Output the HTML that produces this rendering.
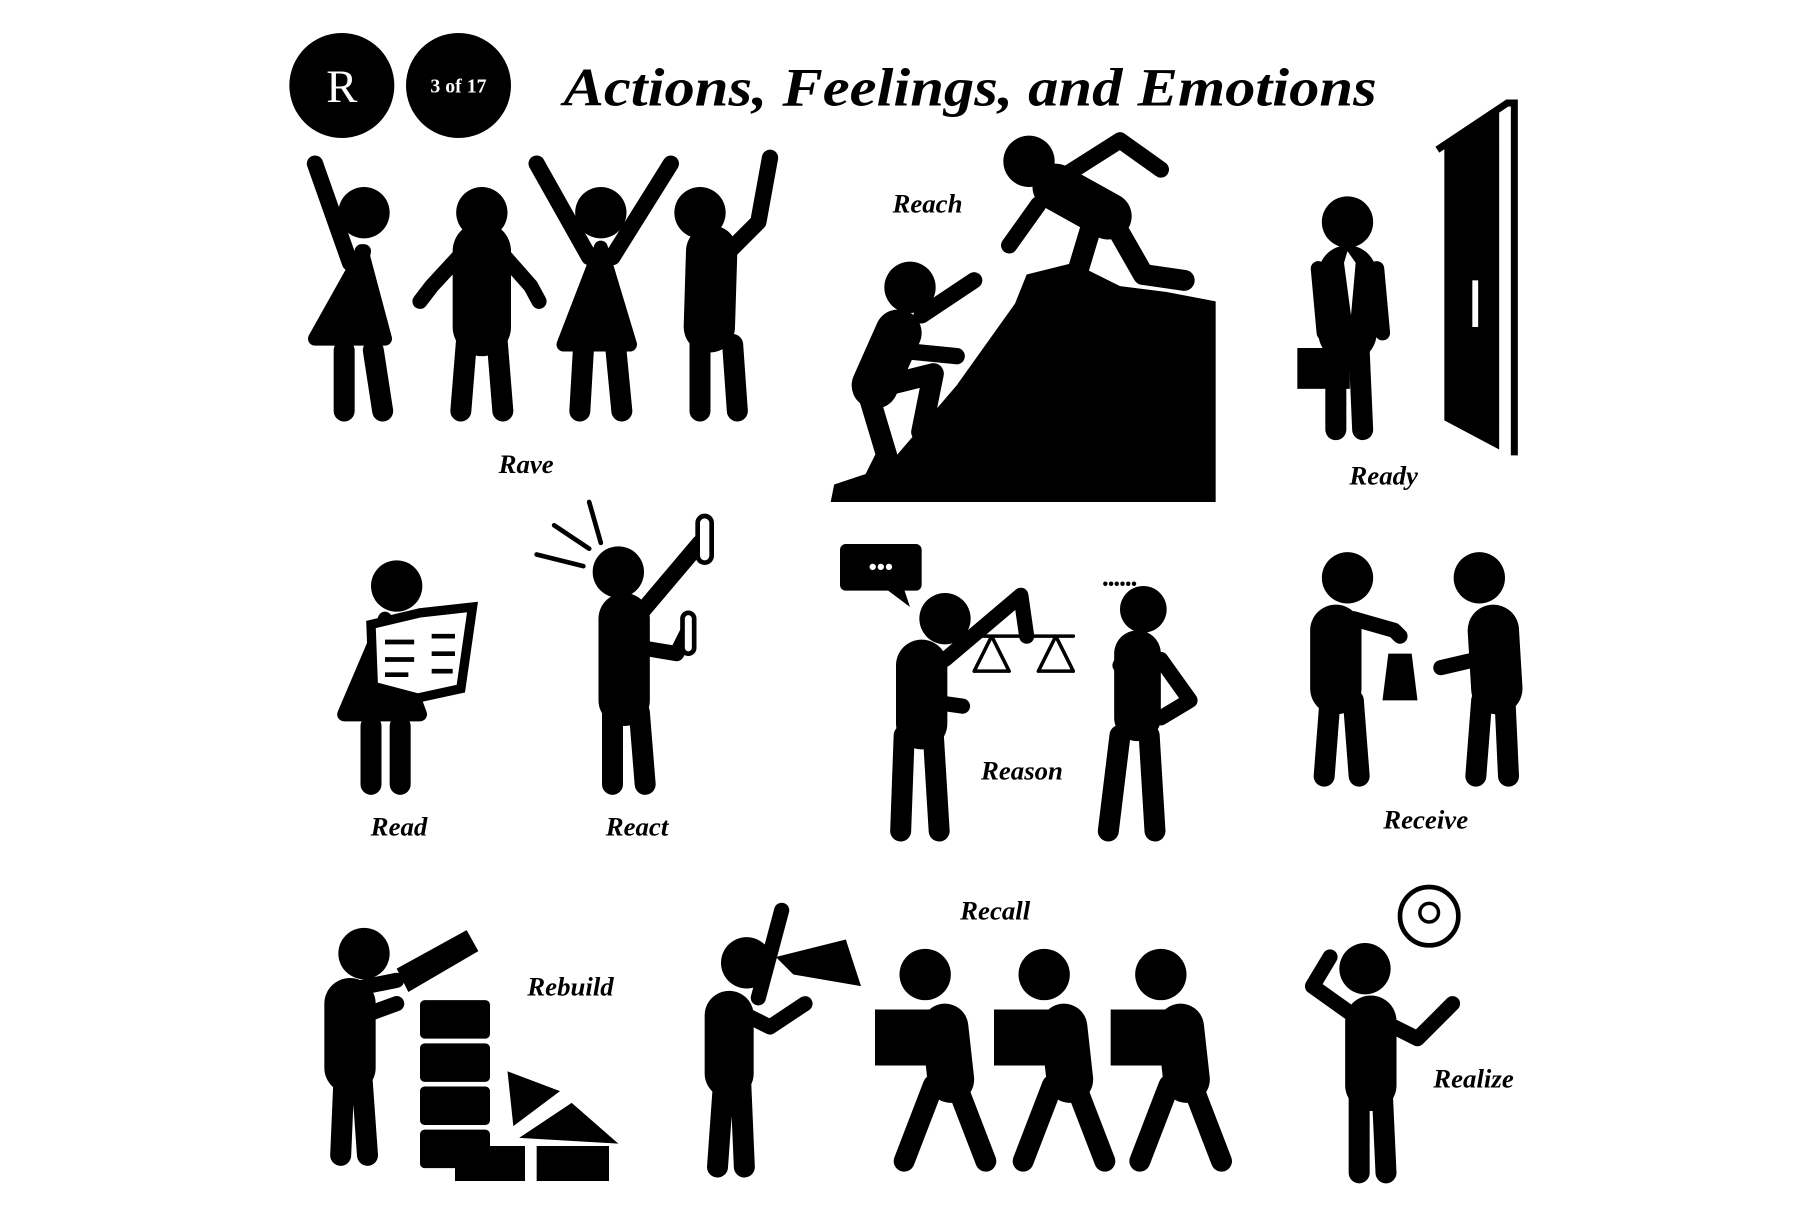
<!DOCTYPE html>
<html><head><meta charset="utf-8"><style>
html,body{margin:0;padding:0;background:#fff}
svg{display:block}
.l{font-family:"Liberation Serif",serif;font-style:italic;font-weight:bold;font-size:23px;fill:#000;text-anchor:middle}
.s{stroke:#000;stroke-linecap:round;stroke-linejoin:round;fill:none}
</style></head><body>
<svg width="1820" height="1214" viewBox="0 0 1560 1040" xmlns="http://www.w3.org/2000/svg">
<rect width="1560" height="1040" fill="#fff"/>
<circle cx="293" cy="73" r="45" fill="#000"/>
<text x="293" y="87" font-family="Liberation Serif,serif" font-size="40" fill="#fff" text-anchor="middle">R</text>
<circle cx="393" cy="73" r="45" fill="#000"/>
<text x="393" y="79" font-family="Liberation Serif,serif" font-weight="bold" font-size="17" fill="#fff" text-anchor="middle">3 of 17</text>
<text x="483" y="90" font-family="Liberation Serif,serif" font-style="italic" font-weight="bold" font-size="46" fill="#000" textLength="697" lengthAdjust="spacingAndGlyphs">Actions, Feelings, and Emotions</text>

<g class="s">
<circle cx="312" cy="182" r="22" fill="#000" stroke="none"/>
<path d="M312 215 L296 290 L270 290 Z" fill="#000" stroke-width="12"/>
<path d="M310 215 L330 290 L296 290 Z" fill="#000" stroke-width="12"/>
<path d="M300 225 L270 140" stroke-width="14"/>
<path d="M295 300 L295 352 M320 300 L328 352" stroke-width="18"/>
<circle cx="413" cy="182" r="22" fill="#000" stroke="none"/>
<path d="M413 215 L413 280" stroke-width="50"/>
<path d="M393 220 L370 245 L360 258 M433 220 L455 245 L462 258" stroke-width="13"/>
<path d="M400 290 L395 352 M426 290 L431 352" stroke-width="18"/>
<circle cx="515" cy="182" r="22" fill="#000" stroke="none"/>
<path d="M515 212 L540 295 L483 295 Z" fill="#000" stroke-width="12"/>
<path d="M505 220 L460 140 M525 220 L575 140" stroke-width="14"/>
<path d="M500 300 L497 352 M528 300 L533 352" stroke-width="18"/>
<circle cx="600" cy="182" r="22" fill="#000" stroke="none"/>
<path d="M610 215 L608 280" stroke-width="44"/>
<path d="M625 215 L650 190 L660 135" stroke-width="14"/>
<path d="M600 295 L600 352 M628 295 L632 352" stroke-width="18"/>
</g>
<text class="l" x="451" y="405">Rave</text>

<polygon points="712,430 715,415 760,400 820,330 870,260 880,235 920,225 960,245 1000,250 1042,258 1042,430" fill="#000"/>
<g class="s">
<circle cx="882" cy="138" r="22" fill="#000" stroke="none"/>
<path d="M905 160 L950 185" stroke-width="40"/>
<path d="M905 155 L960 120 L995 145 M890 175 L865 210" stroke-width="14"/>
<path d="M935 195 L920 245 M960 200 L980 235 L1015 240" stroke-width="18"/>
<circle cx="780" cy="246" r="22" fill="#000" stroke="none"/>
<path d="M770 285 L750 330" stroke-width="40"/>
<path d="M790 270 L835 240 M770 300 L820 305" stroke-width="14"/>
<path d="M745 340 L760 390 L750 410 M760 330 L800 320 L790 370" stroke-width="18"/>
</g>
<text class="l" x="795" y="182">Reach</text>

<g class="s">
<circle cx="1155" cy="190" r="22" fill="#000" stroke="none"/>
<path d="M1155 235 L1155 285" stroke-width="50"/>
<path d="M1130 230 L1135 285 M1180 230 L1185 285" stroke-width="13"/>
<path d="M1145 300 L1145 368 M1165 300 L1168 368" stroke-width="18"/>
</g>
<rect x="1112" y="298" width="45" height="35" fill="#000"/>
<path d="M1155 215 L1162 225 L1158 270 L1152 225 Z" fill="#fff"/>
<polygon points="1238,125 1285,95 1285,385 1238,360" fill="#000"/>
<path d="M1232 128 L1292 88 L1298 88 L1298 390" stroke="#000" stroke-width="6" fill="none"/>
<rect x="1262" y="240" width="5" height="40" fill="#fff"/>
<text class="l" x="1186" y="415">Ready</text>

<g class="s">
<circle cx="340" cy="502" r="22" fill="#000" stroke="none"/>
<path d="M330 530 L360 612 L295 612 Z" fill="#000" stroke-width="12"/>
<path d="M318 622 L318 672 M343 622 L343 672" stroke-width="18"/>
</g>
<polygon points="318,535 360,525 405,520 395,590 358,598 320,588" fill="#fff" stroke="#000" stroke-width="8"/>
<path d="M330 550h25M330 565h25M330 578h20M370 545h20M370 560h20M370 575h18" stroke="#000" stroke-width="4"/>
<text class="l" x="342" y="716">Read</text>

<g class="s">
<circle cx="530" cy="490" r="22" fill="#000" stroke="none"/>
<path d="M535 530 L535 600" stroke-width="44"/>
<path d="M545 530 L600 465" stroke-width="14"/>
<path d="M520 550 L580 560 L590 540" stroke-width="13"/>
<path d="M525 610 L525 672 M548 610 L553 672" stroke-width="18"/>
<path d="M505 430 L515 465 M460 475 L500 485 M475 450 L505 470" stroke-width="4"/>
</g>
<rect x="598" y="442" width="12" height="40" rx="6" fill="#fff" stroke="#000" stroke-width="4"/>
<rect x="585" y="525" width="10" height="35" rx="5" fill="#fff" stroke="#000" stroke-width="4"/>
<text class="l" x="546" y="716">React</text>

<rect x="720" y="466" width="70" height="40" rx="5" fill="#000"/>
<path d="M760 505 L780 520 L775 505Z" fill="#000"/>
<text x="755" y="492" fill="#fff" font-size="20" font-family="Liberation Sans" text-anchor="middle">•••</text>
<text x="945" y="505" font-size="14" font-family="Liberation Sans">••••••</text>
<g class="s">
<circle cx="810" cy="530" r="22" fill="#000" stroke="none"/>
<path d="M790 570 L790 620" stroke-width="44"/>
<path d="M810 565 L875 510 L880 545 M790 600 L825 605" stroke-width="13"/>
<path d="M775 630 L772 712 M800 630 L805 712" stroke-width="18"/>
<path d="M840 545 L920 545 M835 575 h30 M890 575 h30 M850 545 L835 575 M850 545 L865 575 M905 545 L890 575 M905 545 L920 575" stroke-width="3"/>
<circle cx="980" cy="522" r="20" fill="#000" stroke="none"/>
<path d="M975 560 L975 615" stroke-width="40"/>
<path d="M995 565 L1020 600 L995 615 M960 570 L985 560" stroke-width="13"/>
<path d="M960 630 L950 712 M985 630 L990 712" stroke-width="18"/>
</g>
<text class="l" x="876" y="668">Reason</text>

<g class="s">
<circle cx="1155" cy="495" r="22" fill="#000" stroke="none"/>
<path d="M1145 540 L1145 590" stroke-width="44"/>
<path d="M1160 530 L1195 540 L1200 545" stroke-width="13"/>
<path d="M1140 600 L1135 665 M1160 600 L1165 665" stroke-width="18"/>
<circle cx="1268" cy="495" r="22" fill="#000" stroke="none"/>
<path d="M1280 540 L1283 590" stroke-width="44"/>
<path d="M1270 540 L1265 565 L1235 572" stroke-width="13"/>
<path d="M1270 600 L1265 665 M1290 600 L1293 665" stroke-width="18"/>
</g>
<path d="M1190 560 L1210 560 L1215 600 L1185 600 Z" fill="#000"/>
<text class="l" x="1222" y="710">Receive</text>

<g class="s">
<circle cx="312" cy="817" r="22" fill="#000" stroke="none"/>
<path d="M300 860 L300 915" stroke-width="44"/>
<path d="M290 850 L340 840 M285 880 L340 860" stroke-width="13"/>
<path d="M295 920 L292 990 M310 920 L315 990" stroke-width="18"/>
</g>
<polygon points="340,830 400,797 410,815 350,850" fill="#000"/>
<rect x="360" y="857" width="60" height="33" rx="4" fill="#000"/>
<rect x="360" y="894" width="60" height="33" rx="4" fill="#000"/>
<rect x="360" y="931" width="60" height="33" rx="4" fill="#000"/>
<rect x="360" y="968" width="60" height="33" rx="4" fill="#000"/>
<polygon points="435,918 480,935 440,965" fill="#000"/>
<polygon points="445,975 490,945 530,980" fill="#000"/>
<rect x="390" y="982" width="60" height="30" fill="#000"/>
<rect x="460" y="982" width="62" height="30" fill="#000"/>
<text class="l" x="489" y="853">Rebuild</text>

<g class="s">
<circle cx="640" cy="825" r="22" fill="#000" stroke="none"/>
<path d="M625 870 L625 920" stroke-width="42"/>
<path d="M650 855 L670 780 M620 860 L660 880 L690 860" stroke-width="13"/>
<path d="M620 930 L615 1000 M635 930 L638 1000" stroke-width="18"/>
</g>
<polygon points="665,820 725,805 738,845 680,835" fill="#000"/>
<g class="s">
<circle cx="793" cy="835" r="22" fill="#000" stroke="none"/><path d="M810 880 L815 925" stroke-width="40"/><path d="M800 930 L775 995 M820 930 L845 995" stroke-width="18"/>
<circle cx="895" cy="835" r="22" fill="#000" stroke="none"/><path d="M912 880 L917 925" stroke-width="40"/><path d="M902 930 L877 995 M922 930 L947 995" stroke-width="18"/>
<circle cx="995" cy="835" r="22" fill="#000" stroke="none"/><path d="M1012 880 L1017 925" stroke-width="40"/><path d="M1002 930 L977 995 M1022 930 L1047 995" stroke-width="18"/>
</g>
<rect x="750" y="865" width="55" height="48" fill="#000"/>
<rect x="852" y="865" width="55" height="48" fill="#000"/>
<rect x="952" y="865" width="55" height="48" fill="#000"/>
<text class="l" x="853" y="788">Recall</text>

<g class="s">
<circle cx="1170" cy="830" r="22" fill="#000" stroke="none"/>
<path d="M1175 875 L1175 930" stroke-width="44"/>
<path d="M1160 870 L1125 845 L1140 820 M1195 880 L1215 890 L1245 860" stroke-width="13"/>
<path d="M1165 940 L1165 1005 M1185 940 L1188 1005" stroke-width="18"/>
</g>
<circle cx="1225" cy="785" r="25" fill="#fff" stroke="#000" stroke-width="4"/>
<circle cx="1225" cy="782" r="8" fill="none" stroke="#000" stroke-width="3"/>
<text class="l" x="1263" y="932">Realize</text>
</svg>
</body></html>
